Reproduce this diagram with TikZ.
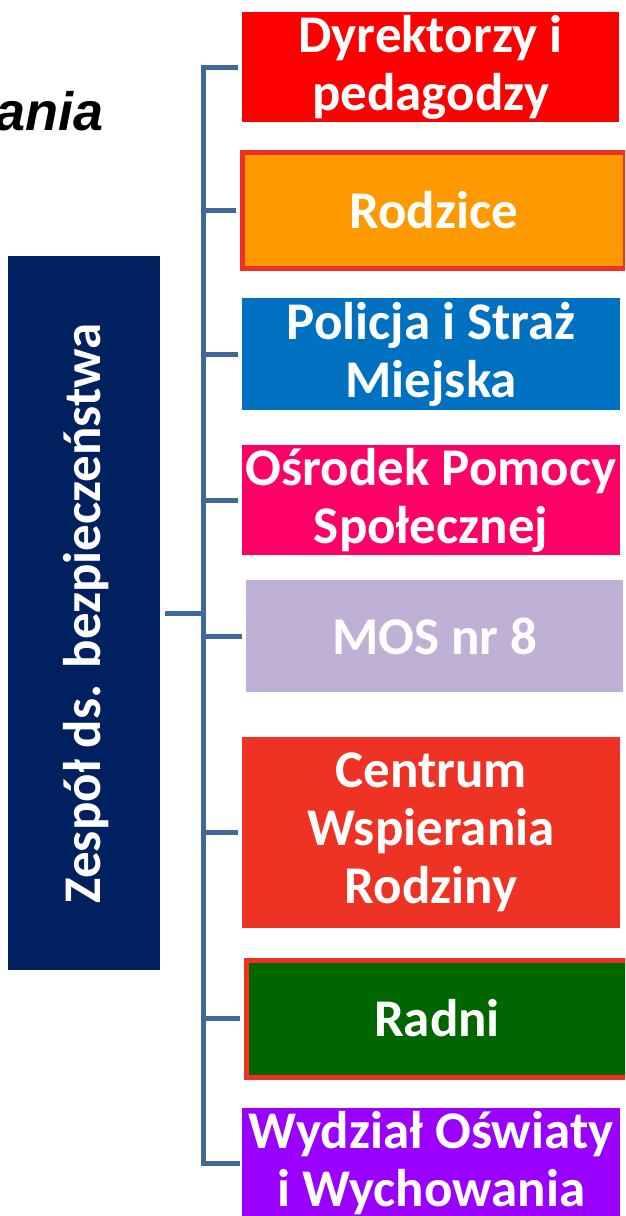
\documentclass[tikz,border=0pt]{standalone}
\usepackage{fontspec}
\setmainfont{Carlito}
\newfontfamily\arialfont{Liberation Sans}
\definecolor{cNavy}{HTML}{002060}
\definecolor{cConn}{HTML}{41689A}
\definecolor{cRed}{HTML}{FF0000}
\definecolor{cOrange}{HTML}{FF9900}
\definecolor{cBlue}{HTML}{0070C0}
\definecolor{cPink}{HTML}{FF0066}
\definecolor{cLav}{HTML}{BFB1D5}
\definecolor{cCentrum}{HTML}{EE3224}
\definecolor{cGreen}{HTML}{006600}
\definecolor{cPurple}{HTML}{9900FF}
\definecolor{cBorder}{HTML}{EE3124}
\tikzset{
  itembox/.style={rectangle, inner sep=0pt, anchor=north west, text=white,
    font=\fontsize{53}{58}\selectfont\bfseries, align=center},
  bordered/.style={draw=cBorder, line width=5pt},
  conn/.style={draw=cConn, line width=5pt, line join=miter},
}
\begin{document}
\begin{tikzpicture}[x=1pt,y=-1pt]
\clip (0,0) rectangle (625,1216);
\fill[white] (0,0) rectangle (625,1216);
% title fragment
\node[anchor=base east, inner sep=0pt, font=\arialfont\fontsize{54}{60}\selectfont\bfseries\itshape] (title) at (104,130) {ania};
% left box
\node[rectangle, fill=cNavy, inner sep=0pt, anchor=north west, minimum width=152pt, minimum height=714pt] (zesp) at (8,256) {};
\node[rotate=90, text=white, font=\fontsize{53}{58}\selectfont\bfseries, inner sep=0pt] (zesptxt) at ([xshift=2pt]zesp.center) {Zespół ds. bezpieczeństwa};
% item boxes
\node[itembox, fill=cRed, minimum width=377pt, minimum height=110pt] (d) at (242,12) {Dyrektorzy i\\pedagodzy};
\node[itembox, bordered, fill=cOrange, minimum width=383pt, minimum height=116pt] (r) at (239.5,149.5) {Rodzice};
\node[itembox, fill=cBlue, minimum width=378pt, minimum height=112pt] (p) at (242,298) {Policja i Straż\\Miejska};
\node[itembox, fill=cPink, minimum width=378pt, minimum height=110pt] (o) at (242,445) {Ośrodek Pomocy\\Społecznej};
\node[itembox, fill=cLav, minimum width=377pt, minimum height=112pt] (m) at (246,580) {MOS nr 8};
\node[itembox, fill=cCentrum, minimum width=378pt, minimum height=191pt] (c) at (242,737) {Centrum\\Wspierania\\Rodziny};
\node[itembox, bordered, fill=cGreen, minimum width=382pt, minimum height=117pt] (rd) at (243.5,957.5) {Radni};
\node[itembox, fill=cPurple, minimum width=378pt, minimum height=110pt] (w) at (242,1108) {Wydział Oświaty\\i Wychowania};
% connectors
\coordinate (spx) at (203,0);
\draw[conn] ([xshift=-4pt]d.west) -- (spx |- d.west) -- (spx |- w.west) -- ([xshift=-2pt]w.west);
\foreach \b in {r,p,o,m,c,rd}{
  \draw[conn] (spx |- \b.west) -- ([xshift=-4pt]\b.west);
}
\draw[conn] ([xshift=5pt]zesp.east) -- (spx |- zesp.east);
\end{tikzpicture}
\end{document}
